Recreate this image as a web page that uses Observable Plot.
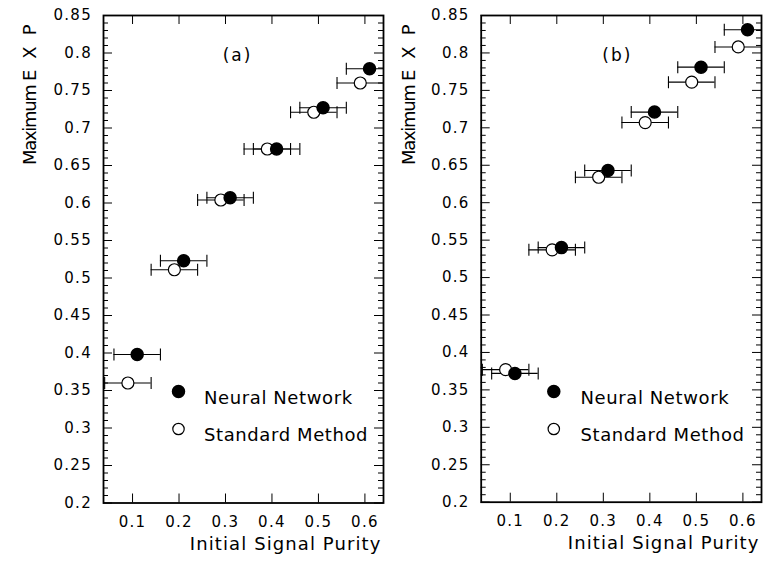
<!DOCTYPE html>
<html><head><meta charset="utf-8">
<script src="https://cdn.jsdelivr.net/npm/d3@7"></script>
<script src="https://cdn.jsdelivr.net/npm/@observablehq/plot@0.6"></script>
<style>
body{margin:0;background:#fff;}
#wrap{display:flex;width:765px;height:567px;overflow:hidden;}
svg text{font-family:"DejaVu Sans",sans-serif;font-weight:normal;fill:#000;}
g[aria-label="y-axis tick label"] text{letter-spacing:1.3px;}
g[aria-label="x-axis tick label"] text{letter-spacing:1.3px;}
</style></head><body><div id="wrap"></div>
<script>
// ---- data ----
const panelLabels = ["(a)", "(b)"];
const seriesNames = ["Neural Network", "Standard Method"];
const purityNN  = [0.11, 0.21, 0.31, 0.41, 0.51, 0.61];
const purityStd = [0.09, 0.19, 0.29, 0.39, 0.49, 0.59];
const expNN_a  = [0.398, 0.523, 0.607, 0.672, 0.727, 0.779];
const expStd_a = [0.360, 0.511, 0.604, 0.672, 0.721, 0.760];
const expNN_b  = [0.372, 0.540, 0.643, 0.721, 0.781, 0.831];
const expStd_b = [0.377, 0.537, 0.634, 0.707, 0.761, 0.808];
const purityErr = 0.05;
const xTickValues = [0.1, 0.2, 0.3, 0.4, 0.5, 0.6];
const yTickValues = [0.2, 0.25, 0.3, 0.35, 0.4, 0.45, 0.5, 0.55, 0.6, 0.65, 0.7, 0.75, 0.8, 0.85];
const yMinorValues = d3.range(20, 86).filter(v => v % 5 !== 0).map(v => v / 100);
const xLabel = "Initial Signal Purity";
const yLabel = "Maximum EXP";

const fmt = d => String(+d.toFixed(2));
const capSymbol = {draw(ctx, size) { const h = Math.sqrt(size / Math.PI); ctx.moveTo(0, -h); ctx.lineTo(0, h); }};
const MAJ = 9, MIN = 5, H = 567, MT = 15;
const xDomain = [0.0375, 0.64], yDomain = [0.2, 0.85];

function rows(xs, ys) { return xs.map((x, i) => ({x, y: ys[i]})); }

function panel({label, nn, std, width, marginLeft, marginRight, marginBottom, labelDx, legDotDx, legTextDx, yLabDx}) {
  const pw = width - marginLeft - marginRight;
  const ph = H - MT - marginBottom;
  // tick lengths converted from pixels to scale units
  const kx = (xDomain[1] - xDomain[0]) / pw, ky = (yDomain[1] - yDomain[0]) / ph;
  const tk = {stroke: "black", strokeWidth: 1};
  const yTicks = (vals, len) => [
    Plot.ruleY(vals, {y: d => d, x1: () => xDomain[0], x2: () => xDomain[0] + len * kx, ...tk}),
    Plot.ruleY(vals, {y: d => d, x1: () => xDomain[1] - len * kx, x2: () => xDomain[1], ...tk})
  ];
  const xTicks = (vals, len) => [
    Plot.ruleX(vals, {x: d => d, y1: () => yDomain[0], y2: () => yDomain[0] + len * ky, ...tk}),
    Plot.ruleX(vals, {x: d => d, y1: () => yDomain[1] - len * ky, y2: () => yDomain[1], ...tk})
  ];
  const errMarks = data => [
    Plot.ruleY(data, {x1: d => d.x - purityErr, x2: d => d.x + purityErr, y: "y", stroke: "black", strokeWidth: 1.1, clip: true}),
    Plot.dot(data, {x: d => d.x - purityErr, y: "y", symbol: capSymbol, r: 6, stroke: "black", strokeWidth: 1.1, fill: "none", clip: true}),
    Plot.dot(data, {x: d => d.x + purityErr, y: "y", symbol: capSymbol, r: 6, stroke: "black", strokeWidth: 1.1, fill: "none", clip: true})
  ];
  const svg = Plot.plot({
    width, height: H, marginTop: MT, marginBottom, marginLeft, marginRight,
    x: {domain: xDomain}, y: {domain: yDomain},
    style: {background: "white", overflow: "visible"},
    marks: [
      ...yTicks(yTickValues, MAJ),
      ...yTicks(yMinorValues, MIN),
      ...xTicks(xTickValues, MAJ),
      ...errMarks(std),
      ...errMarks(nn),
      Plot.dot(std, {x: "x", y: "y", r: 6, fill: "white", stroke: "black", strokeWidth: 1.2}),
      Plot.dot(nn, {x: "x", y: "y", r: 6, fill: "black", stroke: "black"}),
      Plot.axisY(yTickValues, {anchor: "left", tickSize: 0, tickPadding: 11.5, fontSize: 15, tickFormat: fmt, label: null}),
      Plot.axisX(xTickValues, {anchor: "bottom", tickSize: 0, tickPadding: 13, fontSize: 15, tickFormat: fmt, label: null}),
      Plot.frame({stroke: "black", strokeWidth: 1.8}),
      Plot.text([label], {text: d => d, frameAnchor: "top", dx: labelDx, dy: 33, fontSize: 17}),
      Plot.dot([seriesNames[0]], {frameAnchor: "top-left", dx: legDotDx, dy: 376, r: 6, fill: "black", stroke: "black"}),
      Plot.dot([seriesNames[1]], {frameAnchor: "top-left", dx: legDotDx, dy: 413.5, r: 5.7, fill: "white", stroke: "black", strokeWidth: 1.2}),
      Plot.text([seriesNames[0]], {text: d => d, frameAnchor: "top-left", dx: legTextDx, dy: 375.5, textAnchor: "start", fontSize: 18}),
      Plot.text([seriesNames[1]], {text: d => d, frameAnchor: "top-left", dx: legTextDx, dy: 413, textAnchor: "start", fontSize: 18}),
      Plot.text([xLabel], {text: d => d, frameAnchor: "bottom-right", dx: -2, dy: 47, textAnchor: "end", fontSize: 18}),
      Plot.text([yLabel], {text: d => d, frameAnchor: "top-left", rotate: -90, textAnchor: "end", dx: yLabDx, dy: -2, fontSize: 18})
    ]
  });
  // letter spacing to match the original's wide glyphs
  d3.select(svg).selectAll("text").each(function() {
    const t = d3.select(this), s = t.text();
    if (s === yLabel) {
      t.text(null);
      t.append("tspan").attr("letter-spacing", "-1.3px").text("Maximum ");
      t.append("tspan").attr("letter-spacing", "11px").text("EXP");
    } else if (s === xLabel) t.attr("letter-spacing", "1.1px");
    else if (seriesNames.includes(s)) t.attr("letter-spacing", "0.6px");
    else if (panelLabels.includes(s)) t.attr("letter-spacing", "2px");
  });
  svg.style.flex = "none";
  return svg;
}

const wrap = document.getElementById("wrap");
wrap.appendChild(panel({label: panelLabels[0], nn: rows(purityNN, expNN_a), std: rows(purityStd, expStd_a),
  width: 390, marginLeft: 103, marginRight: 7, marginBottom: 64.5, labelDx: -6, legDotDx: 75, legTextDx: 100.5, yLabDx: -80.5}));
wrap.appendChild(panel({label: panelLabels[1], nn: rows(purityNN, expNN_b), std: rows(purityStd, expStd_b),
  width: 375, marginLeft: 90.7, marginRight: 4, marginBottom: 65.3, labelDx: -4, legDotDx: 72.6, legTextDx: 99.3, yLabDx: -79}));
</script></body></html>
